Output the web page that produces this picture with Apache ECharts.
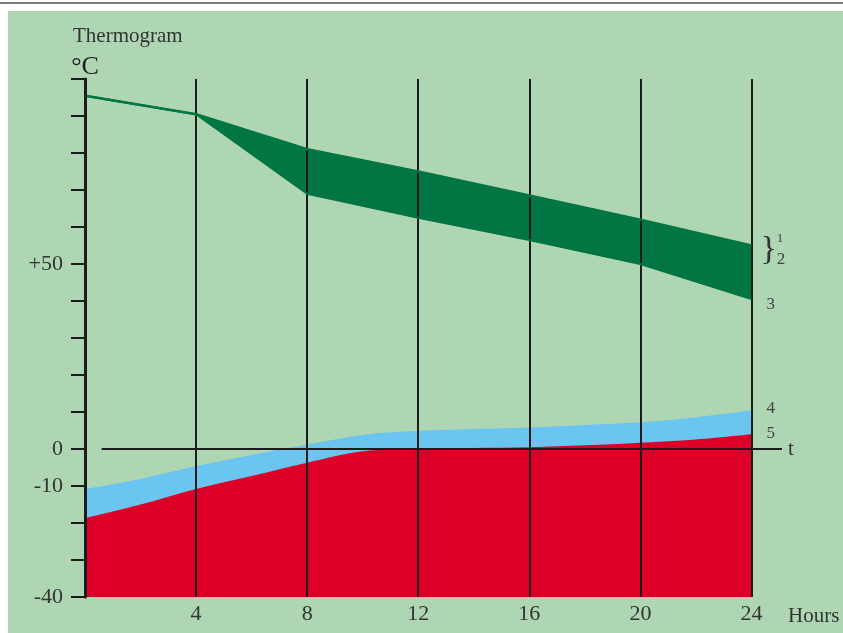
<!DOCTYPE html>
<html>
<head>
<meta charset="utf-8">
<script src="https://cdn.jsdelivr.net/npm/echarts@6/dist/echarts.min.js"></script>
<style>
  html, body { margin: 0; padding: 0; background: #ffffff; }
  body { width: 843px; height: 633px; position: relative; overflow: hidden; }
  #rule { position: absolute; left: 0; top: 2px; width: 843px; height: 2px; background: #7d7d7d; }
  #chart { position: absolute; left: 8px; top: 11px; width: 835px; height: 622px; }
</style>
</head>
<body>
<div id="rule"></div>
<div id="chart"></div>
<script>
// Time axis (hours) and the temperature curves sampled along it
const hours = [0, 2, 4, 6, 8, 10, 12, 14, 16, 18, 20, 22, 24];
const curve4 = [-10.8, -8.1, -4.6, -1.6, 1.2, 3.8, 4.9, 5.4, 5.8, 6.5, 7.2, 8.6, 10.5];   // upper edge of the blue zone
const curve5 = [-18.7, -15.0, -10.8, -7.3, -3.7, -0.6, 0.0, 0.3, 0.5, 1.0, 1.7, 2.6, 4.0]; // upper edge of the red zone

// Green band: straight segments between the 4-hour marks
const bandHours = [0, 4, 8, 12, 16, 20, 24];
const curve12 = [95.5, 90.5, 81, 75, 68.5, 62, 55];     // upper edge (curves 1, 2)
const curve3  = [95.5, 90.5, 69, 62.5, 56.5, 50, 40.5]; // lower edge (curve 3)

// Axis ticks and labels
const hourMarks = [4, 8, 12, 16, 20, 24];
const tempLabels = { '50': '+50', '0': '0', '-10': '-10', '-40': '-40' };
const tempMin = -40, tempMax = 100, tempStep = 10;
const tAxisFrom = 0.6, tAxisTo = 25.1;

const serif = '"Liberation Serif", "DejaVu Serif", serif';
const ink = '#1c1c1c';
const textInk = '#333333';
const bandGreen = '#027642';

const pairs = (xs, ys) => xs.map((x, i) => [x, ys[i]]);

const chart = echarts.init(document.getElementById('chart'), null, { renderer: 'canvas' });

// Filled polygon between the upper and lower edges of the green band
function renderBand(params, api) {
  if (params.dataIndex !== 0) return null;
  const upper = bandHours.map((h, i) => api.coord([h, curve12[i]]));
  const lower = bandHours.map((h, i) => api.coord([h, curve3[i]])).reverse();
  return {
    type: 'polygon',
    shape: { points: upper.concat(lower) },
    style: { fill: bandGreen, stroke: bandGreen, lineWidth: 1 }
  };
}

const edgeLabel = { fontFamily: serif, fontSize: 17, color: '#444' };

chart.setOption({
  backgroundColor: '#afd6b3',
  animation: false,
  title: {
    text: 'Thermogram',
    left: 65, top: 15, padding: 0,
    textStyle: { fontFamily: serif, fontWeight: 'normal', fontSize: 21, color: textInk }
  },
  grid: { left: 77, top: 68, right: 61, bottom: 36, containLabel: false },
  xAxis: {
    type: 'value',
    min: 0, max: tAxisTo, interval: 4,
    name: 'Hours',
    nameLocation: 'end',
    nameGap: 6,
    nameTextStyle: { fontFamily: serif, fontSize: 21, color: textInk, verticalAlign: 'top', padding: [9, 0, 0, 0] },
    axisLine: { show: false, onZero: false },
    axisTick: { show: false },
    splitLine: { show: false },
    axisLabel: {
      margin: 6,
      fontFamily: serif, fontSize: 22, color: textInk,
      formatter: v => hourMarks.includes(v) ? String(v) : ''
    }
  },
  yAxis: {
    type: 'value',
    min: tempMin, max: tempMax, interval: tempStep,
    z: 10,
    name: '°C',
    nameLocation: 'end',
    nameGap: -1,
    nameTextStyle: { fontFamily: serif, fontSize: 26, color: ink, align: 'center' },
    axisLine: { show: true, onZero: false, lineStyle: { color: ink, width: 3 } },
    axisTick: { show: true, inside: false, length: 14, lineStyle: { color: ink, width: 2 } },
    splitLine: { show: false },
    axisLabel: {
      margin: 22,
      fontFamily: serif, fontSize: 22, color: textInk,
      formatter: v => tempLabels[String(v)] || ''
    }
  },
  series: [
    {
      name: '4',
      type: 'line',
      data: pairs(hours, curve4),
      smooth: 0.35,
      showSymbol: false,
      lineStyle: { width: 0 },
      areaStyle: { color: '#6bc5f1', opacity: 1, origin: 'start' },
      endLabel: Object.assign({ show: true, formatter: '4', distance: 15, offset: [0, -2] }, edgeLabel),
      z: 2
    },
    {
      name: '5',
      type: 'line',
      data: pairs(hours, curve5),
      smooth: 0.35,
      showSymbol: false,
      lineStyle: { width: 0 },
      areaStyle: { color: '#dc0028', opacity: 1, origin: 'start' },
      endLabel: Object.assign({ show: true, formatter: '5', distance: 15, offset: [0, -1] }, edgeLabel),
      z: 3
    },
    {
      name: 'band',
      type: 'custom',
      renderItem: renderBand,
      data: bandHours.map((h, i) => [h, curve12[i], curve3[i]]),
      encode: { x: 0, y: [1, 2] },
      z: 4
    },
    {
      name: '3',
      type: 'line',
      data: pairs(bandHours, curve3),
      showSymbol: false,
      lineStyle: { color: bandGreen, width: 2 },
      endLabel: Object.assign({ show: true, formatter: '3', distance: 15, offset: [0, 5] }, edgeLabel),
      z: 5
    },
    {
      name: '1-2',
      type: 'line',
      data: pairs(bandHours, curve12),
      showSymbol: false,
      lineStyle: { color: bandGreen, width: 2.5 },
      endLabel: {
        show: true,
        distance: 9, offset: [0, 5],
        // brace in the plain style, the two curve numbers stacked beside it
        formatter: '}{one|1}{two|2}',
        fontFamily: serif, fontSize: 34, lineHeight: 36, color: '#333',
        rich: {
          one: { fontFamily: serif, fontSize: 13, color: '#444', width: 0, align: 'left', verticalAlign: 'top' },
          two: { fontFamily: serif, fontSize: 17, color: '#444', verticalAlign: 'bottom' }
        }
      },
      z: 5
    },
    {
      name: 'grid-lines',
      type: 'line',
      data: [],
      z: 8,
      markLine: {
        silent: true,
        symbol: ['none', 'none'],
        animation: false,
        lineStyle: { color: ink, width: 2, type: 'solid' },
        label: { show: false },
        data: [
          ...hourMarks.map(h => ({ xAxis: h })),
          [
            { coord: [tAxisFrom, 0] },
            {
              coord: [tAxisTo, 0],
              label: { show: true, position: 'end', formatter: 't', distance: 6, fontFamily: serif, fontSize: 21, color: textInk }
            }
          ]
        ]
      }
    }
  ]
});
</script>
</body>
</html>
